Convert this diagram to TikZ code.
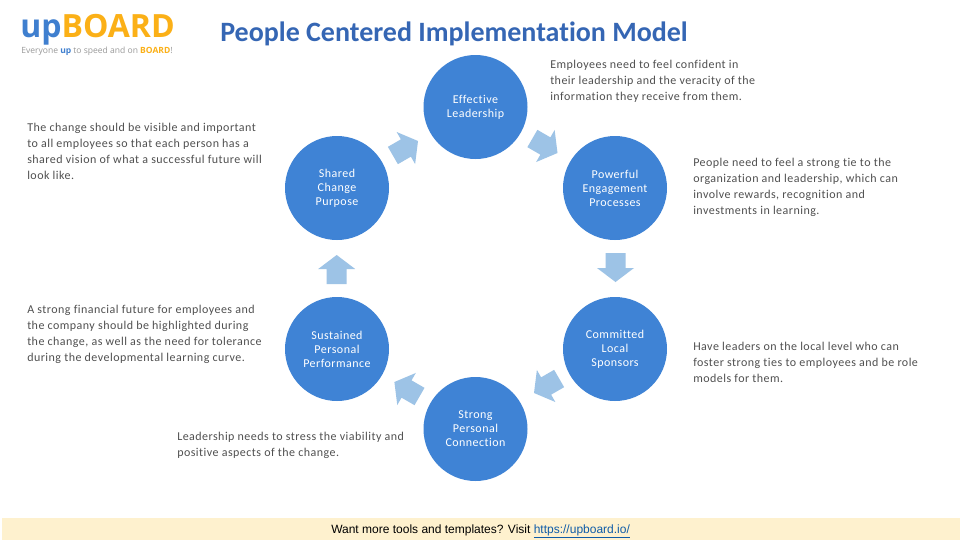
\documentclass[tikz,border=0pt]{standalone}
\usepackage{fontspec}
\setmainfont[Ligatures=NoCommon]{Carlito}
\newfontfamily\arialf{Liberation Sans}
\newfontfamily\logof{Open Sans}
\newfontfamily\spaced[LetterSpace=3.9,Ligatures=NoCommon]{Carlito}
\definecolor{circ}{HTML}{3F83D5}
\definecolor{arr}{HTML}{9DC3E6}
\definecolor{bodyt}{HTML}{505050}
\definecolor{titlec}{HTML}{3566B4}
\definecolor{upb}{HTML}{3F7FCF}
\definecolor{amber}{HTML}{FBB017}
\definecolor{band}{HTML}{FEF1CE}
\definecolor{linkc}{HTML}{0F5CA8}
\tikzset{
  x=0.75pt,y=-0.75pt,
  stage/.style={circle,fill=circ,draw=none,minimum size=78pt,inner sep=0pt,align=center,text=white,font=\spaced\fontsize{9}{10.5}\selectfont},
  note/.style={anchor=west,align=left,inner sep=0pt,text=bodyt,font=\spaced\fontsize{9}{12}\selectfont}
}
\newcommand{\blockarr}[3]{% tip x, tip y, angle (math)
  \fill[arr,shift={(#1,#2)},rotate=#3,x=0.75pt,y=0.75pt]
   (0,0) -- (-14,18.5) -- (-14,10) -- (-29,10) -- (-29,-10) -- (-14,-10) -- (-14,-18.5) -- cycle;}
\begin{document}
\begin{tikzpicture}
\useasboundingbox (0,0) rectangle (960,540);
\fill[white] (0,0) rectangle (960,540);
\node[stage] (lead) at (475.5,107) {Effective\\Leadership};
\node[stage] (shared) at (337,188) {Shared\\Change\\Purpose};
\node[stage] (power) at (615,188) {Powerful\\Engagement\\Processes};
\node[stage] (sustain) at (337,349) {Sustained\\Personal\\Performance};
\node[stage] (commit) at (615,349) {Committed\\Local\\Sponsors};
\node[stage] (strong) at (475.5,429) {Strong\\Personal\\Connection};
\blockarr{418}{141}{30}
\blockarr{557.5}{153}{-30}
\blockarr{615.5}{282}{-90}
\blockarr{534}{393}{210}
\blockarr{394.4}{382}{150}
\blockarr{336.7}{255}{90}
\node[note] (n1) at (27,151) {The change should be visible and important\\to all employees so that each person has a\\shared vision of what a successful future will\\look like.};
\node[note] (n2) at (27,334) {A strong financial future for employees and\\the company should be highlighted during\\the change, as well as the need for tolerance\\during the developmental learning curve.};
\node[note] (n3) at (177,445) {Leadership needs to stress the viability and\\positive aspects of the change.};
\node[note] (n4) at (550,81) {Employees need to feel confident in\\their leadership and the veracity of the\\information they receive from them.};
\node[note] (n5) at (693,187) {People need to feel a strong tie to the\\organization and leadership, which can\\involve rewards, recognition and\\investments in learning.};
\node[note] (n6) at (693,362) {Have leaders on the local level who can\\foster strong ties to employees and be role\\models for them.};
\node[anchor=west,inner sep=0pt,text=titlec,font=\bfseries\fontsize{21}{24}\selectfont] (title) at (220,34) {People Centered Implementation Model};
\node[anchor=west,inner sep=0pt,font=\logof\bfseries\fontsize{24}{26}\selectfont] (logo) at (20,30) {\textcolor{upb}{up}\textcolor{amber}{BOARD}};
\node[anchor=west,inner sep=0pt,text=gray!80,font=\logof\fontsize{6.4}{8}\selectfont] (tag) at (21,51) {Everyone \textcolor{upb}{\textbf{up}} to speed and on \textcolor{amber}{\textbf{BOARD}}!};
\fill[band] (2,518) rectangle (960,540);
\node[anchor=base west,inner sep=0pt,text=black,font=\arialf\fontsize{9}{11}\selectfont] (foot) at (331,533) {Want more tools and templates? Visit \textcolor{linkc}{\underline{https://upboard.io/}}};
\end{tikzpicture}
\end{document}
